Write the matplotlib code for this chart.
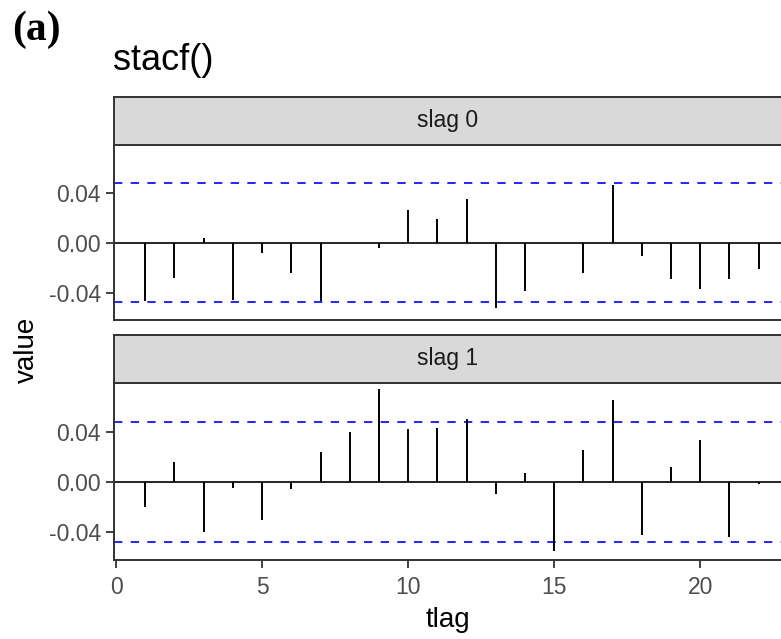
import matplotlib
matplotlib.use('Agg')
from matplotlib import pyplot as plt

# lag values
tlag = list(range(1, 23))
slag0 = [-0.047, -0.028, 0.004, -0.046, -0.008, -0.024, -0.047, 0.0, -0.004, 0.026, 0.019,
         0.035, -0.052, -0.039, 0.0, -0.024, 0.046, -0.011, -0.029, -0.037, -0.029, -0.021]
slag1 = [-0.020, 0.016, -0.040, -0.005, -0.030, -0.006, 0.024, 0.040, 0.074, 0.042, 0.043,
         0.050, -0.010, 0.007, -0.055, 0.025, 0.065, -0.042, 0.012, 0.033, -0.044, -0.002]
panels = ['slag 0', 'slag 1']
bound = 0.0476
yticks = [-0.04, 0.0, 0.04]
ytick_labels = ['-0.04', '0.00', '0.04']
xticks = [0, 5, 10, 15, 20]
xtick_labels = ['0', '5', '10', '15', '20']

plt.rcParams['font.family'] = ['Liberation Sans', 'DejaVu Sans']
W, H = 781, 639
fig = plt.figure(figsize=(W / 100, H / 100), dpi=100)

def fx(px):
    return px / W

def fy(px):
    return 1 - px / H

left, right = 114, 782
# (strip top, panel top, panel bottom) in pixels
boxes = [(97, 145, 320), (335, 383, 560)]
edge = '#333333'

for i, (name, vals) in enumerate(zip(panels, [slag0, slag1])):
    st, pt, pb = boxes[i]
    ax = fig.add_axes([fx(left), fy(pb), fx(right - left), fy(pt) - fy(pb)])
    ax.axhline(0, color='black', lw=1.2, zorder=2)
    ax.vlines(tlag, 0, vals, color='black', lw=1.4, zorder=3)
    ax.axhline(bound, color='#0000FF', lw=1.2, ls=(0, (5, 5)), zorder=1)
    ax.axhline(-bound, color='#0000FF', lw=1.2, ls=(0, (5, 5)), zorder=1)
    ax.set_xlim(-0.07, 22.8)
    ax.set_ylim(-0.062, 0.0785)
    ax.set_yticks(yticks)
    ax.set_yticklabels(ytick_labels)
    ax.tick_params(axis='both', colors=edge, labelcolor='#4D4D4D', labelsize=16.5,
                   length=5.5, width=1.3, pad=4)
    for s in ax.spines.values():
        s.set_color(edge)
        s.set_linewidth(1.4)
    if i == 0:
        ax.set_xticks([])
    else:
        ax.set_xticks(xticks)
        ax.set_xticklabels(xtick_labels)
        ax.tick_params(axis='x', pad=6)

    # facet strip
    sax = fig.add_axes([fx(left), fy(pt), fx(right - left), fy(st) - fy(pt)])
    sax.set_facecolor('#D9D9D9')
    sax.set_xticks([])
    sax.set_yticks([])
    for s in sax.spines.values():
        s.set_color(edge)
        s.set_linewidth(1.4)
    sax.text(0.5, 0.5, name, transform=sax.transAxes, ha='center', va='center',
             fontsize=16.5, color='#1A1A1A')

fig.text(fx(448), fy(620), 'tlag', ha='center', va='center', fontsize=20)
fig.text(fx(27), fy(350), 'value', rotation=90, ha='center', va='center', fontsize=20)
fig.text(fx(113), fy(60), 'stacf()', ha='left', va='center', fontsize=26)
fig.text(fx(12), fy(30), '(a)', ha='left', va='center', fontsize=30, fontweight='bold',
         family='Liberation Serif')

plt.savefig('out.png', dpi=100)
